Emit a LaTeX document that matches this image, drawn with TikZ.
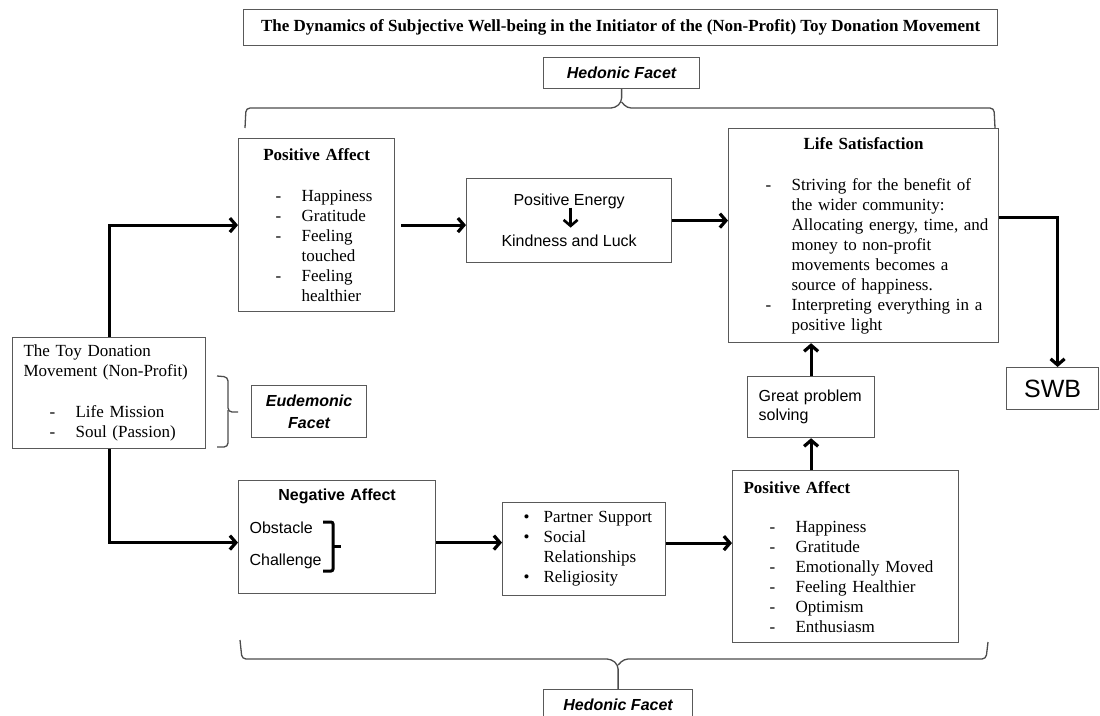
\documentclass[tikz,border=0pt]{standalone}
\usepackage{fontspec}
\setmainfont{Liberation Serif}
\setsansfont{Liberation Sans}
\usetikzlibrary{arrows.meta}

\def\dsh{\hspace*{26pt}\makebox[26pt][l]{-}}
\def\ind{\hspace*{52pt}}
\def\blt{\hspace*{10pt}\makebox[20pt][l]{\textbullet}}
\def\hd#1{\makebox[\linewidth]{\bfseries #1}}
\colorlet{box edge}{black!65}
\colorlet{brace line}{black!70}
\tikzset{box/.style={draw=box edge, line width=1.2pt, anchor=north west, inner xsep=11pt,
        inner ysep=0pt, align=left, font=\fontsize{17}{20}\selectfont},
    sansbox/.style={box, font=\sffamily\fontsize{16}{20}\selectfont},
    facet/.style={box, align=center, font=\sffamily\bfseries\itshape\fontsize{16}{22}\selectfont},
    flow/.style={line width=3.2pt, -{Straight Barb[length=6pt,width=14pt]}},
    brace/.style={draw=brace line, line width=1.3pt, rounded corners=4pt}}

\begin{document}
\begin{tikzpicture}[x=1pt, y=-1pt]
    \useasboundingbox (0,0) rectangle (1100,715);
    % boxes
    \node[box, minimum width=754, minimum height=36, align=center,
          font=\bfseries\fontsize{17}{20}\selectfont] (title) at (243,9)
        {The Dynamics of Subjective Well-being in the Initiator of the (Non-Profit) Toy Donation Movement};
    \node[facet, minimum width=156, minimum height=31] (hedTop) at (543,57) {Hedonic Facet};
    \node[box, minimum width=156, minimum height=173, text width=134] (posA) at (238,138)
        {\hd{Positive Affect}\\[21pt] \dsh Happiness\\ \dsh Gratitude\\ \dsh Feeling\\ \ind touched\\
         \dsh Feeling\\ \ind healthier};
    \node[sansbox, minimum width=205, minimum height=84, align=center] (energy) at (466,178)
        {Positive Energy\\[21pt]Kindness and Luck};
    \node[box, minimum width=270, minimum height=214, text width=248] (lifeSat) at (728,128)
        {\hd{Life Satisfaction}\\[21pt]
         \dsh\mbox{Striving for the benefit of}\\ \ind\mbox{the wider community:}\\
         \ind\mbox{Allocating energy, time, and}\\ \ind\mbox{money to non-profit}\\
         \ind\mbox{movements becomes a}\\ \ind\mbox{source of happiness.}\\
         \dsh\mbox{Interpreting everything in a}\\ \ind positive light};
    \node[box, minimum width=193, minimum height=111, text width=171] (toy) at (12,337)
        {The Toy Donation\\ Movement (Non-Profit)\\[21pt] \dsh Life Mission\\ \dsh Soul (Passion)};
    \node[facet, minimum width=115, minimum height=52] (eud) at (251,385) {Eudemonic\\Facet};
    \node[sansbox, minimum width=197, minimum height=113, text width=175] (negA) at (238,480)
        {\hd{Negative Affect}\\[13pt] Obstacle\\[12pt] Challenge\\ \mbox{}};
    \node[box, minimum width=163, minimum height=93, text width=141] (support) at (502,502)
        {\blt Partner Support\\ \blt Social\\ \hspace*{30pt}Relationships\\ \blt Religiosity};
    \node[box, minimum width=226, minimum height=172, text width=204] (posB) at (732,470)
        {\textbf{Positive Affect}\\[19pt] \dsh Happiness\\ \dsh Gratitude\\ \dsh Emotionally Moved\\
         \dsh Feeling Healthier\\ \dsh Optimism\\ \dsh Enthusiasm};
    \node[sansbox, minimum width=127, minimum height=61, text width=105,
          font=\sffamily\fontsize{16}{19}\selectfont] (great) at (747,376) {Great problem\\ solving};
    \node[sansbox, minimum width=92, minimum height=42, align=center,
          font=\sffamily\fontsize{25}{28}\selectfont] (swb) at (1006,367) {SWB};
    \node[facet, minimum width=149, minimum height=31] (hedBot) at (543,689) {Hedonic Facet};

    % braces
    \draw[brace] (245,128) -- (246,108) -- (615,108) -- (hedTop.south |- 0,102) -- (hedTop.south);
    \draw[brace] (hedTop.south |- 0,102) -- (627,108) -- (994,108) -- (995,128);
    \draw[brace] (240,640) -- (242,659) -- (611,659) -- (hedBot.north |- 0,665) -- (hedBot.north);
    \draw[brace] (hedBot.north |- 0,665) -- (624,659) -- (986,659) -- (988,642);
    \draw[brace] (217,376) -- (228,377) -- (228,412) -- (238,412);
    \draw[brace] (228,410) -- (228,447) -- (217,447);
    \draw[line width=3pt, rounded corners=2pt] (323,522) -- (333,522) -- (333,571) -- (323,571);
    \draw[line width=3pt] (333,546) -- (341,546);

    % arrows
    \draw[flow] (toy.north) |- (posA.west);
    \draw[flow] (toy.south) |- ([yshift=-5.5pt]negA.west);
    \draw[flow] ([xshift=6pt]posA.east) -- (energy.west |- posA.east);
    \draw[flow, line width=2.6pt] ([yshift=13pt,xshift=1.5pt]energy.center) -- ([yshift=-7pt,xshift=1.5pt]energy.center);
    \draw[flow] (energy.east) -- (lifeSat.west |- energy.east);
    \draw[flow] ([yshift=18pt]lifeSat.east) -| ([xshift=5pt]swb.north);
    \draw[flow] ([yshift=-5.5pt]negA.east) -- ([yshift=-5.5pt]negA.east -| support.west);
    \draw[flow] ([yshift=6pt]support.east) -- ([yshift=6pt]support.east -| posB.west);
    \draw[flow] (great.south |- posB.north) -- (great.south);
    \draw[flow] (great.north) -- (great.north |- lifeSat.south);
\end{tikzpicture}
\end{document}
